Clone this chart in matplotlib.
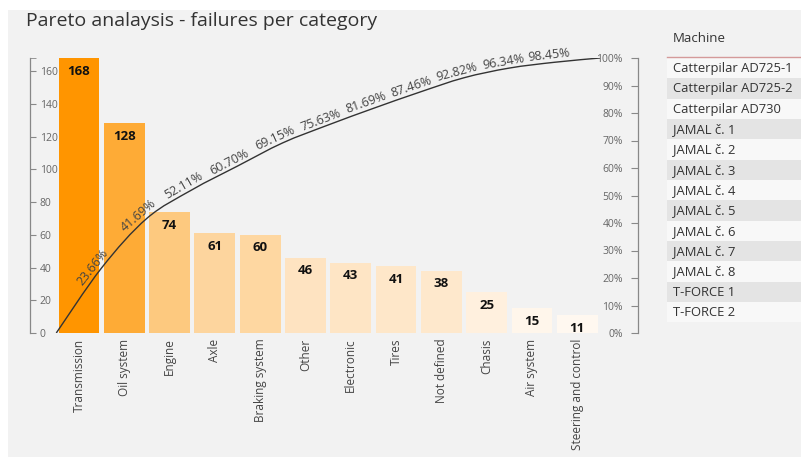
import numpy as np
import matplotlib
matplotlib.use("Agg")
import matplotlib.pyplot as plt
from matplotlib.colors import LinearSegmentedColormap, Normalize
from matplotlib.patches import Rectangle, PathPatch
from matplotlib.path import Path
from matplotlib.lines import Line2D

# ---------------- data ----------------
categories = ["Transmission", "Oil system", "Engine", "Axle", "Braking system", "Other",
              "Electronic", "Tires", "Not defined", "Chasis", "Air system", "Steering and control"]
failures = [168, 128, 74, 61, 60, 46, 43, 41, 38, 25, 15, 11]
left_ticks = [0, 20, 40, 60, 80, 100, 120, 140, 160]
right_ticks = [0, 10, 20, 30, 40, 50, 60, 70, 80, 90, 100]
machines = ["Catterpilar AD725-1", "Catterpilar AD725-2", "Catterpilar AD730",
            "JAMAL č. 1", "JAMAL č. 2", "JAMAL č. 3", "JAMAL č. 4", "JAMAL č. 5",
            "JAMAL č. 6", "JAMAL č. 7", "JAMAL č. 8", "T-FORCE 1", "T-FORCE 2"]
title = "Pareto analaysis - failures per category"

plt.rcParams['font.family'] = ['Open Sans', 'DejaVu Sans']

W, H = 801, 457
fig = plt.figure(figsize=(W / 100, H / 100), dpi=100, facecolor="white")

def fx(px):
    return px / W

def fy(py):
    return 1 - py / H

# gray panel background
fig.patches.append(Rectangle((fx(8), 0), 1 - fx(8), fy(10), transform=fig.transFigure,
                             facecolor="#f2f2f2", edgecolor="none", zorder=-10))

# ---------------- main axes ----------------
x0, x1, ytop, ybot = 30, 638, 58, 333
ax = fig.add_axes([fx(x0), fy(ybot), fx(x1) - fx(x0), fy(ytop) - fy(ybot)])
ax.set_facecolor("none")
n = len(categories)
x = np.arange(n)
ax.set_xlim(-1.08, n - 1 + 1.34)
ymax = max(failures)
ax.set_ylim(0, ymax)

cmap = LinearSegmentedColormap.from_list(
    "po", [(0.0, "#fff8f0"), (0.22, "#fee4c2"), (0.4, "#fdc97f"), (1.0, "#ff9500")])
norm = Normalize(vmin=min(failures), vmax=max(failures))
colors = [cmap(norm(v)) for v in failures]
ax.bar(x, failures, width=0.9, color=colors, zorder=1)

for xi, v in zip(x, failures):
    ax.annotate(str(v), (xi, v), xytext=(0, -9.5), textcoords="offset points",
                ha="center", va="center", fontsize=9.5, fontweight="bold", color="#111111",
                zorder=5)

for s in ["top", "bottom", "right"]:
    ax.spines[s].set_visible(False)
ax.spines["left"].set_color("#888888")
ax.spines["left"].set_linewidth(0.9)
ax.set_yticks(left_ticks)
ax.set_yticks([ymax], minor=True)
ax.tick_params(axis="y", which="both", direction="in", length=4, color="#888888",
               labelsize=7.5, labelcolor="#666666", pad=-7)
for lab in ax.get_yticklabels():
    lab.set_horizontalalignment("left")

ax.set_xticks(x)
ax.set_xticklabels(categories, rotation=90, fontsize=8.5, color="#444444", va="top")
ax.tick_params(axis="x", length=0, pad=4)

# ---------------- cumulative line ----------------
ax2 = ax.twinx()
ax2.set_ylim(0, 1)
ax2.set_facecolor("none")
cum = np.cumsum(failures) / np.sum(failures)
lx = np.concatenate([[x[0] - 0.5], x + 0.5])
ly = np.concatenate([[0.0], cum])

# smooth curve through the points (cubic Bezier segments, Catmull-Rom tangents)
P = np.column_stack([lx, ly])
verts = [P[0]]
codes = [Path.MOVETO]
for i in range(len(P) - 1):
    p0 = P[i - 1] if i > 0 else P[i]
    p1, p2 = P[i], P[i + 1]
    p3 = P[i + 2] if i + 2 < len(P) else P[i + 1]
    c1 = p1 + (p2 - p0) / 6.0
    c2 = p2 - (p3 - p1) / 6.0
    verts += [c1, c2, p2]
    codes += [Path.CURVE4] * 3
ax2.add_patch(PathPatch(Path(verts, codes), facecolor="none", edgecolor="#333333",
                        lw=1.0, zorder=6))

for s in ["top", "bottom", "left"]:
    ax2.spines[s].set_visible(False)
ax2.spines["right"].set_color("#888888")
ax2.spines["right"].set_linewidth(0.9)
ax2.set_yticks([t / 100 for t in right_ticks])
ax2.set_yticklabels([f"{t}%" for t in right_ticks])
ax2.tick_params(axis="y", direction="in", length=5, color="#888888",
                labelsize=7.5, labelcolor="#666666", pad=-11)
for lab in ax2.get_yticklabels():
    lab.set_horizontalalignment("right")

# labels along the line
pts = ax2.transData.transform(P)
for i in range(1, len(lx) - 1):
    d = pts[i + 1] - pts[i - 1]
    ang = np.degrees(np.arctan2(d[1], d[0]))
    th = np.radians(ang)
    nx, ny = -np.sin(th), np.cos(th)
    tx, ty = np.cos(th), np.sin(th)
    off = 7.5
    along = -5.0
    dx = (nx * off + tx * along) * 72 / 100
    dy = (ny * off + ty * along) * 72 / 100
    ax2.annotate(f"{cum[i - 1] * 100:.2f}%", (lx[i], ly[i]), xytext=(dx, dy),
                 textcoords="offset points", ha="center", va="center",
                 rotation=ang, rotation_mode="anchor", fontsize=9, color="#444444",
                 zorder=7)

# ---------------- title ----------------
fig.text(fx(26), fy(21), title, fontsize=14, color="#333333", ha="left", va="center")

# ---------------- slicer ----------------
sx0 = 667
fig.text(fx(673), fy(38), "Machine", fontsize=9.5, color="#333333", ha="left", va="center")
fig.add_artist(Line2D([fx(sx0), 1], [fy(57), fy(57)], transform=fig.transFigure,
                      color="#d49a9a", lw=1.0))
row_h = 20.33
row_top = 58
for k, m in enumerate(machines):
    top = row_top + k * row_h
    col = "#e4e4e4" if k % 2 == 1 else "#f8f8f8"
    fig.patches.append(Rectangle((fx(sx0), fy(top + row_h)), 1 - fx(sx0), fy(top) - fy(top + row_h),
                                 transform=fig.transFigure, facecolor=col, edgecolor="none",
                                 zorder=-5))
    fig.text(fx(673), fy(top + row_h / 2 + 0.5), m, fontsize=9.4, color="#333333",
             ha="left", va="center")

fig.savefig("out.png", dpi=100, facecolor="white")
